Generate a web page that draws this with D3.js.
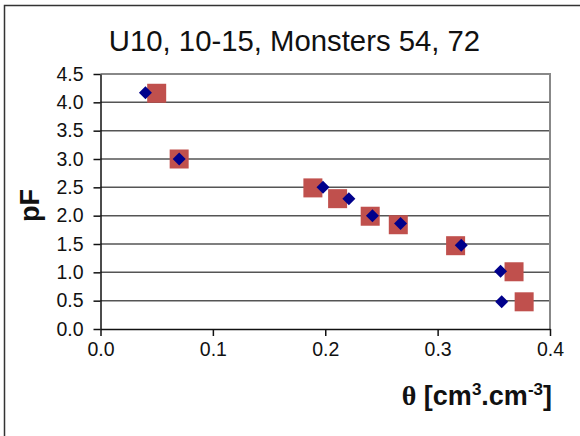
<!DOCTYPE html>
<html><head><meta charset="utf-8">
<script src="https://cdn.jsdelivr.net/npm/d3@7"></script>
<style>body{margin:0;background:#fff;}svg{display:block;font-family:"Liberation Sans",Arial,sans-serif;}</style>
</head><body>
<script>
const title = "U10, 10-15, Monsters 54, 72";
const xTicks = [0, 0.1, 0.2, 0.3, 0.4];
const yTicks = [0, 0.5, 1.0, 1.5, 2.0, 2.5, 3.0, 3.5, 4.0, 4.5];
const blueTheta = [0.040, 0.070, 0.198, 0.221, 0.242, 0.267, 0.321, 0.356, 0.357];
const bluePF    = [4.17, 3.00, 2.50, 2.30, 2.00, 1.86, 1.48, 1.02, 0.48];
const redTheta  = [0.050, 0.070, 0.189, 0.211, 0.240, 0.265, 0.316, 0.368, 0.377];
const redPF     = [4.16, 3.00, 2.49, 2.30, 1.99, 1.84, 1.47, 1.01, 0.48];

const W = 580, H = 436;
const m = {left: 100.5, right: 550, top: 74, bottom: 329};
const svg = d3.select("body").append("svg").attr("width", W).attr("height", H);
svg.append("rect").attr("width", W).attr("height", H).attr("fill", "#fff");
svg.append("rect").attr("x", 4.5).attr("y", 5.5).attr("width", 700).attr("height", 600)
  .attr("fill", "none").attr("stroke", "#333").attr("stroke-width", 1.5);

const x = d3.scaleLinear().domain([0, 0.4]).range([m.left, m.right]);
const y = d3.scaleLinear().domain([0, 4.5]).range([m.bottom, m.top]);

// gridlines
svg.append("g").selectAll("line").data(yTicks.slice(1, -1)).join("line")
  .attr("x1", m.left).attr("x2", m.right).attr("y1", d => y(d)).attr("y2", d => y(d))
  .attr("stroke", "#555").attr("stroke-width", 1.5);
// plot border top/right
svg.append("path").attr("d", `M${m.left},${m.top}H${m.right}V${m.bottom}`)
  .attr("fill", "none").attr("stroke", "#888").attr("stroke-width", 2);

const yAxis = d3.axisLeft(y).tickValues(yTicks).tickFormat(d3.format(".1f")).tickSize(7).tickSizeOuter(0).tickPadding(10);
const gy = svg.append("g").attr("transform", `translate(${m.left},0)`).call(yAxis);
const xAxis = d3.axisBottom(x).tickValues(xTicks).tickFormat(d3.format(".1f")).tickSize(7).tickSizeOuter(0).tickPadding(6);
const gx = svg.append("g").attr("transform", `translate(0,${m.bottom})`).call(xAxis);
[gy, gx].forEach(g => {
  g.select(".domain").attr("stroke", "#111").attr("stroke-width", 1.5);
  g.selectAll(".tick line").attr("stroke", "#111").attr("stroke-width", 1.5);
  g.selectAll("text").attr("font-family", "Liberation Sans, Arial, sans-serif").attr("font-size", 19.5).attr("fill", "#111");
});

// red squares
const sq = 19;
svg.append("g").selectAll("rect").data(redTheta.map((t, i) => [t, redPF[i]])).join("rect")
  .attr("x", d => x(d[0]) - sq / 2).attr("y", d => y(d[1]) - sq / 2)
  .attr("width", sq).attr("height", sq).attr("fill", "#C0504D");
// blue diamonds
const r = 6.5;
svg.append("g").selectAll("path").data(blueTheta.map((t, i) => [t, bluePF[i]])).join("path")
  .attr("d", d => { const cx = x(d[0]), cy = y(d[1]); return `M${cx},${cy - r}L${cx + r},${cy}L${cx},${cy + r}L${cx - r},${cy}Z`; })
  .attr("fill", "#00008B");

svg.append("text").attr("x", 294.5).attr("y", 51).attr("text-anchor", "middle")
  .attr("font-size", 29.3).attr("fill", "#111").text(title);
svg.append("text").attr("transform", "translate(39,205.5) rotate(-90)").attr("text-anchor", "middle")
  .attr("font-size", 27).attr("font-weight", "bold").attr("fill", "#111").text("pF");
const xl = svg.append("text").attr("x", 552).attr("y", 405).attr("text-anchor", "end")
  .attr("font-size", 27).attr("font-weight", "bold").attr("fill", "#111");
xl.append("tspan").attr("font-family", "Liberation Serif, serif").attr("font-weight", "bold").attr("font-size", 28).text("θ");
xl.append("tspan").text(" [cm");
xl.append("tspan").attr("font-size", 17).attr("dy", -10).text("3");
xl.append("tspan").attr("dy", 10).text(".cm");
xl.append("tspan").attr("font-size", 17).attr("dy", -10).text("-3");
xl.append("tspan").attr("dy", 10).text("]");
</script>
</body></html>
